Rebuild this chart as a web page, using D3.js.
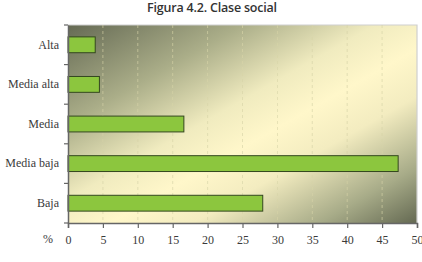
<!DOCTYPE html>
<html><head><meta charset="utf-8">
<script src="https://cdn.jsdelivr.net/npm/d3@7"></script>
<style>
body{margin:0;background:#fff;}
svg{display:block;}
</style></head><body>
<svg id="c" width="422" height="262"></svg>
<script>
const categories = ["Alta","Media alta","Media","Media baja","Baja"];
const values = [3.9, 4.5, 16.6, 47.3, 27.9];
const xTicks = [0,5,10,15,20,25,30,35,40,45,50];
const title = "Figura 4.2. Clase social";

const svg = d3.select("#c");
const m = {l:68, r:5, t:25, b:39};
const W = 422, H = 262;
const x = d3.scaleLinear().domain([0,50]).range([m.l, W-m.r]);
const y = d3.scaleBand().domain(categories).range([m.t, H-m.b]).paddingInner(0.6).paddingOuter(0.3);
const yb = d3.scaleBand().domain(categories).range([m.t, H-m.b]);

const serif = s => s.style("font-family",'"Liberation Serif"').style("font-size","12px").style("fill","#3a3a3a");

const defs = svg.append("defs");
const g = defs.append("linearGradient").attr("id","bg").attr("x1",0).attr("y1",0).attr("x2",1).attr("y2",1);
[[0,"#656a54"],[0.25,"#abae89"],[0.44,"#f0ebbf"],[0.56,"#fff7ca"],[0.68,"#f3ecc0"],[0.86,"#a7ab88"],[1,"#646952"]]
  .forEach(([o,c])=>g.append("stop").attr("offset",o).attr("stop-color",c));

svg.append("rect").attr("x",m.l).attr("y",m.t).attr("width",x(50)-m.l).attr("height",H-m.b-m.t).attr("fill","url(#bg)");
svg.append("path").attr("d",`M${m.l},${m.t}H${x(50)}V${H-m.b}`).attr("fill","none").attr("stroke","#cfcfcf").attr("stroke-width",1.2);

// grid
svg.append("g").selectAll("line").data(xTicks.slice(1,-1)).join("line")
  .attr("x1",d=>x(d)).attr("x2",d=>x(d)).attr("y1",m.t).attr("y2",H-m.b)
  .attr("stroke","#d8d4a8").attr("stroke-width",0.8).attr("stroke-dasharray","3,3").attr("opacity",0.8);

// bars
svg.append("g").selectAll("rect").data(values).join("rect")
  .attr("x",x(0)).attr("y",(d,i)=>y(categories[i]))
  .attr("width",d=>x(d)-x(0)).attr("height",y.bandwidth())
  .attr("fill","#8cc63e").attr("stroke","#34471f").attr("stroke-width",1);

// axes
const xa = svg.append("g").attr("transform",`translate(0,${H-m.b})`)
  .call(d3.axisBottom(x).tickValues(xTicks).tickSize(5).tickPadding(7));
const ya = svg.append("g").attr("transform",`translate(${m.l},0)`)
  .call(d3.axisLeft(yb).tickSize(0).tickPadding(9));
svg.append("g").selectAll("line").data(d3.range(categories.length+1)).join("line")
  .attr("x1",m.l-4).attr("x2",m.l).attr("y1",i=>m.t+i*yb.step()).attr("y2",i=>m.t+i*yb.step())
  .attr("stroke","#666").attr("stroke-width",1.2);
[xa,ya].forEach(a=>{
  a.selectAll("path").attr("stroke","#666").attr("stroke-width",1.5);
  a.selectAll("line").attr("stroke","#666").attr("stroke-width",1.2);
  a.selectAll("text").call(serif);
});
svg.append("text").attr("x",48).attr("y",H-m.b+20).attr("text-anchor","middle").call(serif).text("%");

svg.append("text").attr("x",212).attr("y",12).attr("text-anchor","middle")
  .style("font-family",'"Open Sans"').style("font-weight","600").style("font-size","12.5px")
  .attr("letter-spacing","-0.2").style("fill","#333").text(title);
</script>
</body></html>
